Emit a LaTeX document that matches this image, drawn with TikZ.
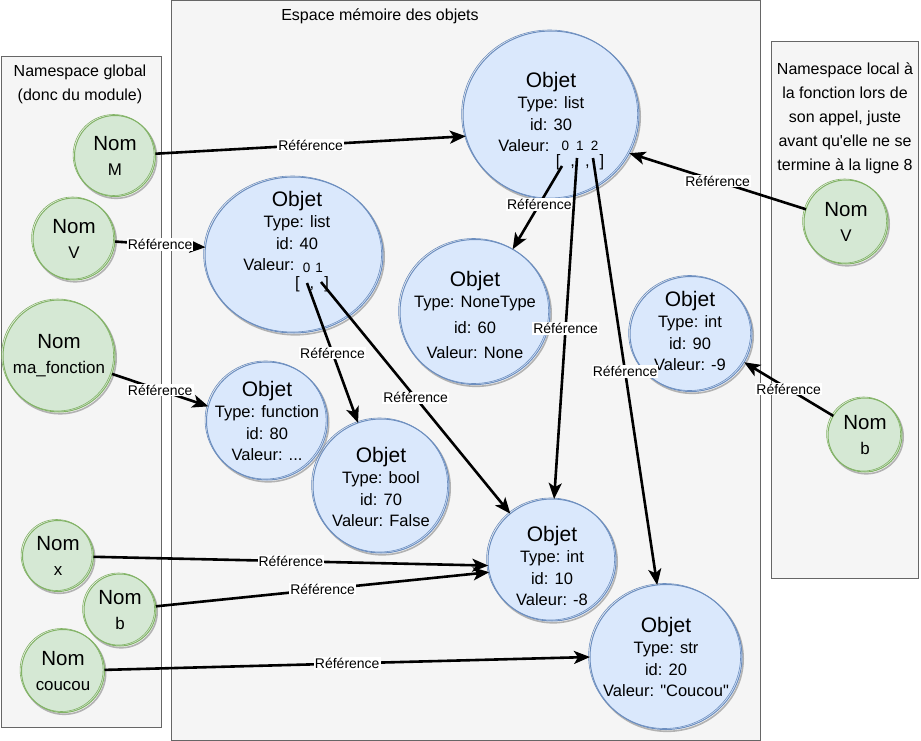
\documentclass[tikz,border=0pt]{standalone}
\usepackage{fontspec}
\setmainfont{Liberation Sans}
\usetikzlibrary{shapes.geometric,arrows.meta}
\definecolor{objet fill}{HTML}{DAE8FC}
\definecolor{objet edge}{HTML}{6C8EBF}
\definecolor{nom fill}{HTML}{D5E8D4}
\definecolor{nom edge}{HTML}{82B366}
\definecolor{zone fill}{HTML}{F5F5F5}
\definecolor{zone edge}{HTML}{666666}
\newcommand\titreobjet[1]{{\fontsize{21}{21}\selectfont #1}}
\newcommand\titrenom[1]{{\fontsize{20.5}{20.5}\selectfont #1}}
\tikzset{zone/.style={fill=zone fill, draw=zone edge, line width=1pt},
	titre/.style={align=center, font=\fontsize{16}{24}\selectfont},
	trait/.style={preaction={draw=black!30, line width=1.6pt, transform canvas={shift={(1.2pt,-1.8pt)}}},
		postaction={draw=#1, line width=.6pt, transform canvas={shift={(-1.4pt,1pt)}}}},
	objet/.style={ellipse, fill=objet fill, draw=objet edge, line width=1pt, outer sep=0pt, trait=objet edge},
	texte/.style={align=center, inner sep=0pt, font=\fontsize{16.5}{21.5}\selectfont},
	indice/.style={inner sep=0pt, font=\fontsize{13.5}{13.5}\selectfont},
	crochet/.style={inner sep=0pt, text height=10pt, text depth=2pt, font=\fontsize{16.5}{16.5}\selectfont},
	nom/.style={circle, fill=nom fill, draw=nom edge, line width=1pt, inner sep=0pt, outer sep=0pt,
		align=center, font=\fontsize{16.9}{25}\selectfont, trait=nom edge},
	lien/.style={line width=2.6pt, -{Stealth[length=16pt, width=13pt, inset=4pt]}},
	etiquette/.style={fill=white, inner sep=1pt, font=\fontsize{14}{14}\selectfont}}

\begin{document}
\begin{tikzpicture}[x=1pt, y=-1pt]
\useasboundingbox (0,0) rectangle (921,741);

% zones
\draw[zone] (1,57) rectangle (161,727);
\draw[zone] (171,1) rectangle (760,740);
\draw[zone] (771,42) rectangle (918,578);
\node[titre] (tglobal) at (80,84) {Namespace global\\(donc du module)};
\node[titre] (tmemoire) at (380,16) {Espace mémoire des objets};
\node[titre] (tlocal) at (845,118) {Namespace local à\\la fonction lors de\\son appel, juste\\avant qu\textquotesingle elle ne se\\termine à la ligne 8};

% objets
\node[objet, minimum width=176, minimum height=168] (o30) at (551,115) {};
\node[texte] (t30) at (551,112) {\titreobjet{Objet}\\Type: list\\id: 30\\Valeur:\makebox[54pt]{}};
\node[indice] (i30) at (580,146) {0\hspace{7pt}1\hspace{7pt}2};
\node[crochet] (k30) at (580,163) {[\hspace{10pt},\hspace{10pt},\hspace{10pt}]};
\coordinate (c30a) at (562,166);
\coordinate (c30b) at (577,158);
\coordinate (c30c) at (593,158);

\node[objet, minimum width=178, minimum height=156] (o40) at (294,255) {};
\node[texte] (t40) at (297,231) {\titreobjet{Objet}\\Type: list\\id: 40\\Valeur:\makebox[56pt]{}};
\node[indice] (i40) at (313,268) {0\hspace{5pt}1};
\node[crochet] (k40) at (312,284) {[\hspace{10pt},\hspace{10pt}]};
\coordinate (c40a) at (307,283);
\coordinate (c40b) at (321,282);

\node[objet, minimum width=150, minimum height=145] (o60) at (475,312) {};
\node[texte] (t60) at (475,315) {\titreobjet{Objet}\\Type: NoneType\\[4pt]id: 60\\[4pt]Valeur: None};

\node[objet, minimum width=122, minimum height=115] (o90) at (691,334) {};
\node[texte] (t90) at (690,331) {\titreobjet{Objet}\\Type: int\\id: 90\\Valeur: -9};

\node[objet, minimum width=121, minimum height=118] (o80) at (267,421) {};
\node[texte] (t80) at (267,421) {\titreobjet{Objet}\\Type: function\\id: 80\\Valeur: ...};

\node[objet, minimum width=136, minimum height=134] (o70) at (381,486) {};
\node[texte] (t70) at (381,487) {\titreobjet{Objet}\\Type: bool\\id: 70\\Valeur: False};

\node[objet, minimum width=128, minimum height=122] (o10) at (552,560) {};
\node[texte] (t10) at (552,566) {\titreobjet{Objet}\\Type: int\\id: 10\\Valeur: -8};

\node[objet, minimum width=152, minimum height=145] (o20) at (666,657) {};
\node[texte] (t20) at (666,657) {\titreobjet{Objet}\\Type: str\\id: 20\\Valeur: \textquotedbl Coucou\textquotedbl};

% noms
\node[nom, minimum size=81] (nM) at (115,156) {\titrenom{Nom}\\M};
\node[nom, minimum size=82] (nV) at (74,239) {\titrenom{Nom}\\V};
\node[nom, minimum size=112] (nfonction) at (59,356) {\titrenom{Nom}\\ma\_fonction};
\node[nom, minimum size=71] (nx) at (58,556) {\titrenom{Nom}\\x};
\node[nom, minimum size=72] (nb) at (120,610) {\titrenom{Nom}\\b};
\node[nom, minimum size=83] (ncoucou) at (63,671) {\titrenom{Nom}\\coucou};
\node[nom, minimum size=84] (nVlocal) at (846,222) {\titrenom{Nom}\\V};
\node[nom, minimum size=74] (nblocal) at (865,435) {\titrenom{Nom}\\b};

% references
\draw[lien] (nM) -- node[etiquette, midway]{Référence} (o30.194);
\draw[lien] (nV) -- node[etiquette, midway]{Référence} (o40.175);
\draw[lien] (nfonction) -- node[etiquette, midway]{Référence} (o80.166);
\draw[lien] (nx) -- node[etiquette, midway]{Référence} (o10.185);
\draw[lien] (nb) -- node[etiquette, midway]{Référence} (o10.191);
\draw[lien] (ncoucou) -- node[etiquette, midway]{Référence} (o20.180);
\draw[lien] (nVlocal) -- node[etiquette, midway]{Référence} (o30.334);
\draw[lien] (nblocal) -- node[etiquette, midway]{Référence} (o90.332);
\draw[lien] (c30a) -- node[etiquette, pos=.46]{Référence} (o60.59);
\draw[lien] (c30b) -- node[etiquette, midway]{Référence} (o10.88);
\draw[lien] (c30c) -- node[etiquette, midway]{Référence} (o20.97);
\draw[lien] (c40a) -- node[etiquette, midway]{Référence} (o70.110);
\draw[lien] (c40b) -- node[etiquette, midway]{Référence} (o10.132);

\end{tikzpicture}
\end{document}
